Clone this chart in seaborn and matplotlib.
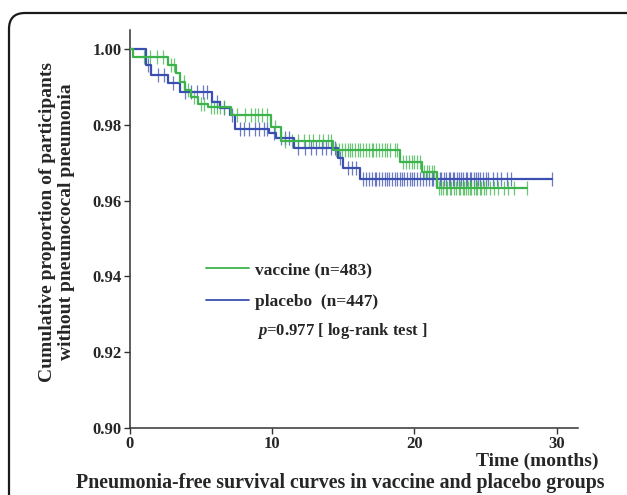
import numpy as np
import pandas as pd
import matplotlib
matplotlib.use("Agg")
import matplotlib.pyplot as plt
from matplotlib.patches import FancyBboxPatch
import seaborn as sns

# ==========================
# DATA
# ==========================

# step points: time (months) and survival after each event
vac_time = [0, 0.2, 2.7, 3.2, 3.5, 3.9, 4.3, 4.8, 5.5, 7.1, 9.9, 10.6, 14.3, 19.0, 20.5, 21.6, 27.9]
vac_surv = [1.0, 0.998, 0.9958, 0.9936, 0.9914, 0.9892, 0.9874, 0.9854, 0.9846, 0.9826,
            0.9795, 0.9758, 0.9733, 0.9703, 0.9676, 0.9633, 0.9633]

pla_time = [0, 1.1, 1.5, 2.7, 3.5, 5.8, 6.3, 7.0, 7.4, 9.8, 10.3, 11.5, 14.6, 15.0, 16.2, 29.7]
pla_surv = [1.0, 0.9958, 0.9931, 0.9909, 0.9886, 0.9861, 0.9843, 0.9826, 0.9789, 0.9777,
            0.9764, 0.9738, 0.9712, 0.9685, 0.9656, 0.9656]

# censored times
vac_cens = [1.0, 1.4, 1.9, 2.3, 2.9, 3.1, 3.8, 4.1, 4.5, 5.0, 5.2, 5.7, 5.9, 6.1, 6.3, 6.6,
            7.5, 8.1, 8.5, 8.8, 9.0, 9.3, 9.6, 10.2, 10.9, 11.4, 11.8, 12.2, 12.6, 12.9,
            13.3, 13.6, 13.9, 14.1, 14.5, 14.7, 14.9, 15.1, 15.3, 15.5, 15.6, 15.8, 16.0,
            16.2, 16.4, 16.6, 16.8, 17.0, 17.1, 17.3, 17.5, 17.7, 17.9, 18.1, 18.3, 18.6,
            18.8, 19.2, 19.4, 19.6, 19.8, 20.0, 20.2, 20.4, 20.7, 20.9, 21.0, 21.2, 21.4,
            21.7, 21.9, 22.0, 22.2, 22.3, 22.5, 22.6, 22.8, 22.9, 23.1, 23.2, 23.4, 23.5,
            23.6, 23.8, 23.9, 24.0, 24.2, 24.3, 24.4, 24.6, 24.7, 24.9, 25.0, 25.3, 25.6,
            25.9, 26.3, 26.6, 27.0, 27.9]
pla_cens = [1.3, 2.0, 2.4, 3.0, 3.9, 4.3, 4.7, 5.1, 5.4, 6.1, 6.6, 7.2, 7.7, 8.0, 8.4, 8.8,
            9.1, 9.4, 9.6, 10.1, 10.6, 10.9, 11.2, 11.8, 12.3, 12.7, 13.1, 13.5, 13.8, 14.1,
            14.4, 14.8, 15.3, 15.6, 15.9, 16.4, 16.6, 16.8, 17.0, 17.2, 17.3, 17.5, 17.7,
            17.9, 18.1, 18.2, 18.4, 18.6, 18.8, 19.0, 19.1, 19.3, 19.5, 19.7, 19.8, 20.0,
            20.2, 20.4, 20.6, 20.8, 21.0, 21.2, 21.3, 21.5, 21.6, 21.8, 21.9, 22.1, 22.2,
            22.4, 22.5, 22.7, 22.8, 23.0, 23.1, 23.3, 23.4, 23.6, 23.7, 23.9, 24.0, 24.2,
            24.3, 24.5, 24.6, 24.8, 25.0, 25.2, 25.5, 25.8, 26.1, 26.5, 26.8, 29.7]

groups = ["vaccine (n=483)", "placebo  (n=447)"]
colors = {"vaccine (n=483)": "#3cb44b", "placebo  (n=447)": "#3b4fb0"}
y_ticks = [0.90, 0.92, 0.94, 0.96, 0.98, 1.00]
x_ticks = [0, 10, 20, 30]


def at_risk_level(times, surv, cens):
    idx = np.searchsorted(times, cens, side="right") - 1
    return np.asarray(surv)[idx]


steps = pd.concat([
    pd.DataFrame({"time": vac_time, "surv": vac_surv, "group": groups[0]}),
    pd.DataFrame({"time": pla_time, "surv": pla_surv, "group": groups[1]}),
])
cens = pd.concat([
    pd.DataFrame({"time": vac_cens, "surv": at_risk_level(vac_time, vac_surv, vac_cens),
                  "group": groups[0]}),
    pd.DataFrame({"time": pla_cens, "surv": at_risk_level(pla_time, pla_surv, pla_cens),
                  "group": groups[1]}),
])

# ==========================
# PLOT
# ==========================

sns.set_style("ticks")
plt.rcParams["font.family"] = ["Liberation Serif", "DejaVu Serif"]
plt.rcParams["font.weight"] = "bold"
plt.rcParams["mathtext.fontset"] = "custom"
plt.rcParams["mathtext.it"] = "Liberation Serif:italic:bold"
plt.rcParams["mathtext.rm"] = "Liberation Serif:bold"

fig = plt.figure(figsize=(6.27, 4.95), dpi=100)
ax = fig.add_axes([130 / 627, 1 - 428 / 495, 448 / 627, 398 / 495])

for g in groups[::-1]:
    sub = cens[cens["group"] == g]
    sns.scatterplot(data=sub, x="time", y="surv", marker="|", s=100, linewidth=0.9,
                    color=colors[g], alpha=0.75, ax=ax, legend=False, zorder=2)

sns.lineplot(data=steps, x="time", y="surv", hue="group", hue_order=groups[::-1],
             palette=colors, drawstyle="steps-post", estimator=None, sort=False,
             linewidth=1.6, ax=ax, legend=False, zorder=3)

ax.set_xlim(0, 31.5)
ax.set_ylim(0.90, 1.005)
ax.set_xticks(x_ticks)
ax.set_yticks(y_ticks)
ax.set_yticklabels([f"{v:.2f}" for v in y_ticks])
ax.set_xlabel("")
ax.set_ylabel("")
ax.tick_params(axis="both", labelsize=12, length=4, width=1, pad=2, color="#333333")
for lab in ax.get_xticklabels() + ax.get_yticklabels():
    lab.set_fontweight("bold")
sns.despine(ax=ax)
for sp in ["left", "bottom"]:
    ax.spines[sp].set_linewidth(1.1)
    ax.spines[sp].set_color("#333333")

# legend
handles = [plt.Line2D([], [], color=colors[g], linewidth=1.3) for g in groups]
leg = ax.legend(handles, groups, loc="upper left", bbox_to_anchor=(206 / 627, 1 - 262 / 495),
                bbox_transform=fig.transFigure, frameon=False, handlelength=2.5,
                handletextpad=0.35, labelspacing=0.9, borderpad=0, borderaxespad=0,
                prop={"size": 12.5, "weight": "bold"})

fig.text(257 / 627, 1 - 331 / 495, r"$p$=0.977 [ log-rank test ]", fontsize=12,
         fontweight="bold", ha="left", va="center")

fig.text(598 / 627, 1 - 461 / 495, "Time (months)", fontsize=14, fontweight="bold",
         ha="right", va="center")
fig.text(340 / 627, 1 - 483 / 495, "Pneumonia-free survival curves in vaccine and placebo groups",
         fontsize=14.3, fontweight="bold", ha="center", va="center")
fig.text(57 / 627, 1 - 222 / 495,
         "Cumulative proportion of participants\nwithout pneumococal pneumonia",
         fontsize=14, fontweight="bold", rotation=90, ha="center", va="center",
         multialignment="center", linespacing=1.15)

# rounded frame around the panel
frame = FancyBboxPatch((9, -40), 680, 482 + 40, boxstyle="round,pad=0,rounding_size=16",
                       transform=None, fill=False, edgecolor="#1a1a1a", linewidth=1.6)
fig.add_artist(frame)

fig.savefig("out.png", dpi=100)
